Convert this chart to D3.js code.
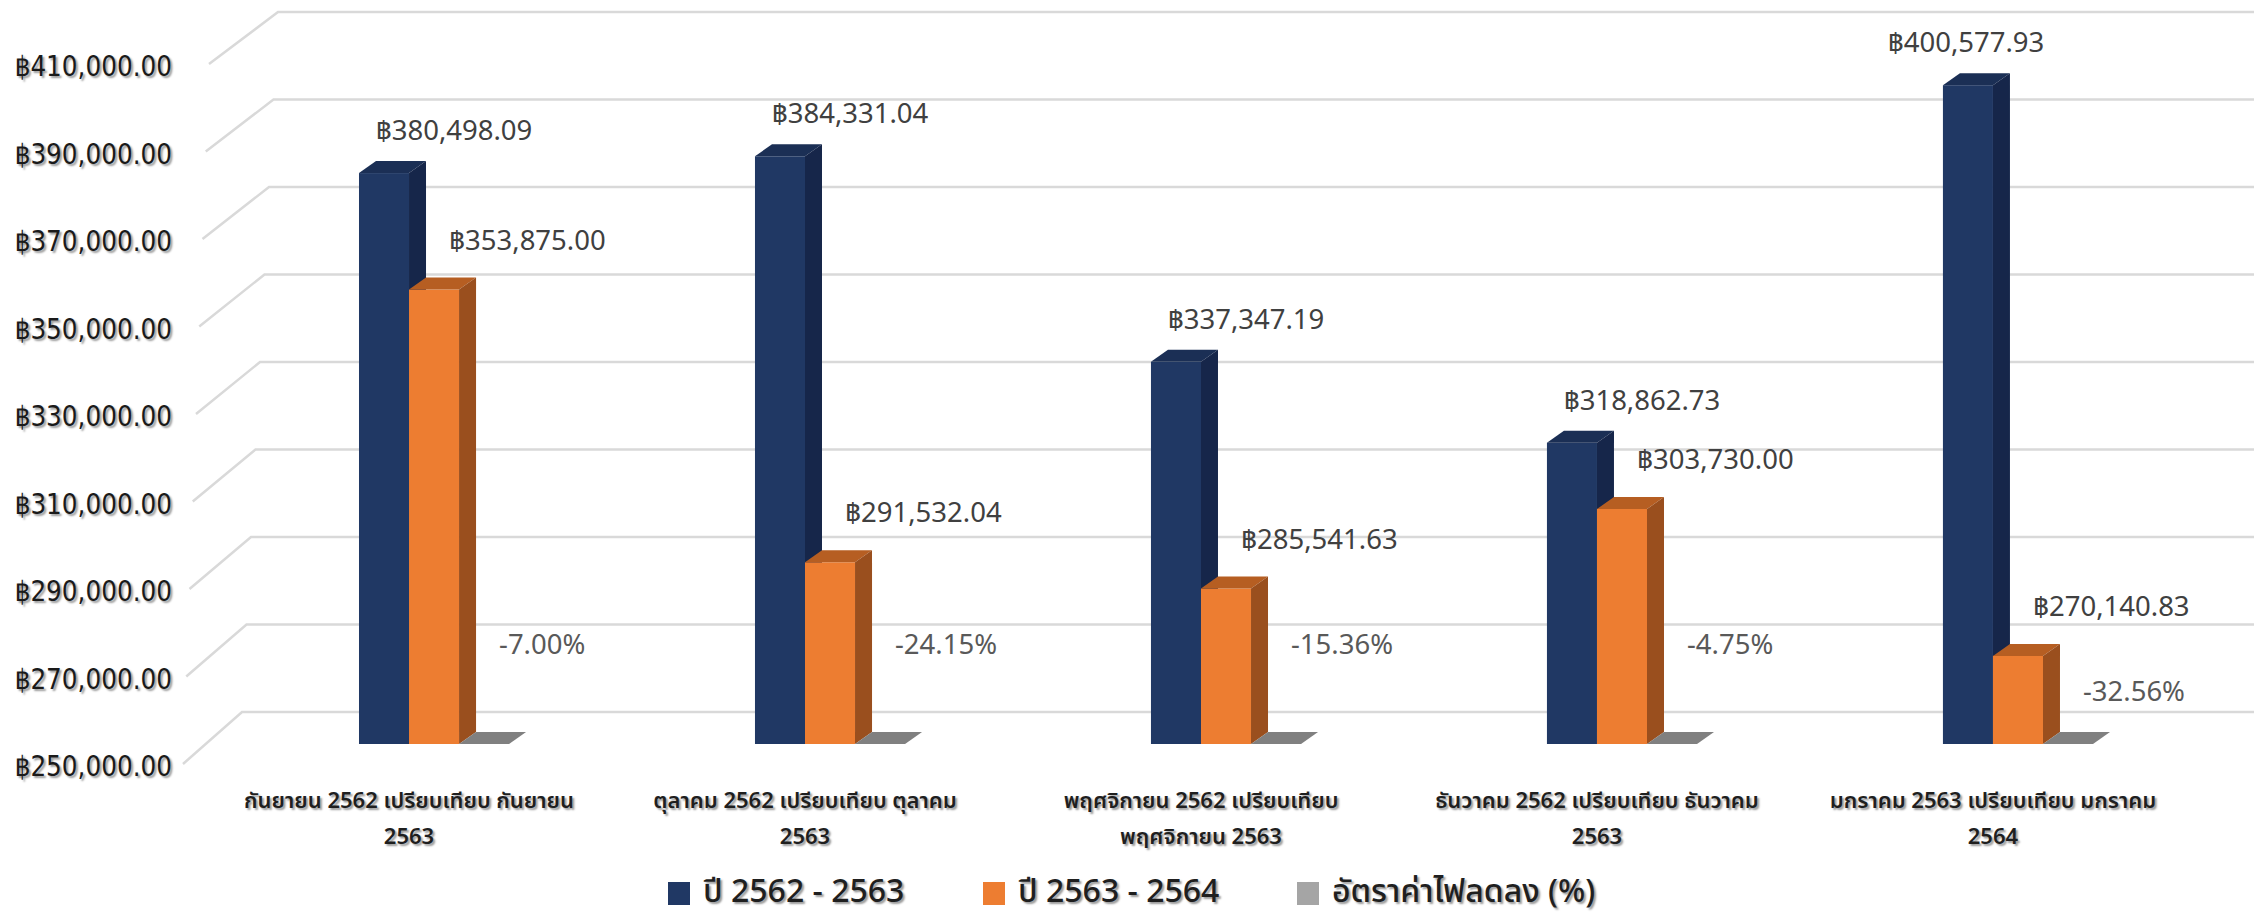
<!DOCTYPE html>
<html>
<head>
<meta charset="utf-8">
<script src="https://cdn.jsdelivr.net/npm/d3@7"></script>
<style>
  body { margin: 0; background: #fff; }
  text { font-family: "Noto Sans Thai", "Tahoma", "Noto Sans", "DejaVu Sans", sans-serif; }
</style>
</head>
<body>
<script>
// data
var categories = ["กันยายน 2562 เปรียบเทียบ กันยายน 2563",
                  "ตุลาคม 2562 เปรียบเทียบ ตุลาคม 2563",
                  "พฤศจิกายน 2562 เปรียบเทียบ พฤศจิกายน 2563",
                  "ธันวาคม 2562 เปรียบเทียบ ธันวาคม 2563",
                  "มกราคม 2563 เปรียบเทียบ มกราคม 2564"];
var seriesNames = ["ปี 2562 - 2563", "ปี 2563 - 2564", "อัตราค่าไฟลดลง (%)"];
var values6263 = [380498.09, 384331.04, 337347.19, 318862.73, 400577.93];
var values6364 = [353875.00, 291532.04, 285541.63, 303730.00, 270140.83];
var pctDrop = [-7.00, -24.15, -15.36, -4.75, -32.56];
var yTicks = [250000, 270000, 290000, 310000, 330000, 350000, 370000, 390000, 410000];

var W = 2254, H = 917;
var colors = [
  {front: "#203864", top: "#1b2f55", side: "#16264a"},
  {front: "#ed7d31", top: "#b65e22", side: "#9a4f1e"},
  {front: "#8c8c8c", top: "#808080", side: "#6f6f6f"}
];
var legendColors = ["#203864", "#ed7d31", "#a5a5a5"];
var shadow = "2px 2px 2px rgba(0,0,0,0.4)";

var svg = d3.select("body").append("svg")
            .attr("width", W)
            .attr("height", H);

// bar plane scale; walls are offset in depth
var y = d3.scaleLinear().domain([250000, 410000]).range([744, 44]);
var FRONT = 20, BACK = -32;   // floor front edge / back wall offsets (px in y)
var DX = 17, DY = 12;         // bar depth

var x0 = d3.scaleBand().domain(categories).range([236, 2216])
           .paddingInner(0.621).paddingOuter(0.3106);
var x1 = d3.scaleBand().domain(d3.range(3)).range([0, x0.bandwidth()]);

// gridlines: back wall + left side wall
var g = svg.append("g");
yTicks.forEach(function(v) {
  var t = (v - 250000) / 160000;
  var fx = 183 + t * 26, bx = 242 + t * 36;
  g.append("path")
   .attr("d", "M" + fx + "," + (y(v) + FRONT) + "L" + bx + "," + (y(v) + BACK) + "L" + W + "," + (y(v) + BACK))
   .style("fill", "none")
   .style("stroke", "#d9d9d9")
   .style("stroke-width", 2.5);
});

// y axis labels
var yFront = y.copy().range([744 + FRONT + 3, 44 + FRONT + 3]);
var yAxis = svg.append("g")
   .attr("transform", "translate(178,0)")
   .call(d3.axisLeft(yFront).tickValues(yTicks).tickSize(0).tickPadding(6)
           .tickFormat(function(d) { return "฿" + d3.format(",.2f")(d); }));
yAxis.select(".domain").remove();
yAxis.selectAll("text")
     .style("font-size", "27.5px")
     .style("font-family", "'DejaVu Sans Condensed', Tahoma, sans-serif")
     .style("fill", "#1a1a1a")
     .style("text-shadow", shadow);

function bar(parent, xl, w, v, c) {
  var yt = y(Math.max(250000, v)), yb = y(250000);
  var xr = xl + w;
  parent.append("rect")
        .attr("x", xl).attr("y", yt)
        .attr("width", w).attr("height", yb - yt)
        .style("fill", c.front);
  parent.append("path")
        .attr("d", "M" + xl + "," + yt + "L" + xr + "," + yt + "L" + (xr + DX) + "," + (yt - DY) + "L" + (xl + DX) + "," + (yt - DY) + "Z")
        .style("fill", c.top);
  parent.append("path")
        .attr("d", "M" + xr + "," + yt + "L" + (xr + DX) + "," + (yt - DY) + "L" + (xr + DX) + "," + (yb - DY) + "L" + xr + "," + yb + "Z")
        .style("fill", c.side);
}

var bars = svg.append("g");
var labels = svg.append("g");
var fmt = d3.format(",.2f");

categories.forEach(function(cat, i) {
  var gx = x0(cat);
  var vals = [values6263[i], values6364[i], pctDrop[i]];
  vals.forEach(function(v, s) {
    bar(bars, gx + x1(s), x1.bandwidth(), v, colors[s]);
  });

  // value labels
  var navyC = Math.min(gx + x1(0) + x1.bandwidth() / 2 + 70, 1966);
  labels.append("text")
        .attr("x", navyC)
        .attr("y", y(values6263[i]) - DY - 21)
        .attr("text-anchor", "middle")
        .style("font-size", "27.5px")
        .style("fill", "#404040")
        .text("฿" + fmt(values6263[i]));
  var orBase = y(values6364[i]) - DY - 28;
  labels.append("text")
        .attr("x", gx + x1(1) + 40)
        .attr("y", orBase)
        .style("font-size", "27.5px")
        .style("fill", "#404040")
        .text("฿" + fmt(values6364[i]));
  labels.append("text")
        .attr("x", gx + x1(2) + 40)
        .attr("y", Math.max(654, orBase + 85))
        .style("font-size", "27.5px")
        .style("fill", "#595959")
        .text(d3.format(".2f")(pctDrop[i]) + "%");

  // category labels, wrapped
  var cx = gx + x0.bandwidth() / 2 - 25;
  var t = svg.append("text")
             .attr("text-anchor", "middle")
             .style("font-size", "22px")
             .style("font-weight", 600)
             .style("fill", "#1f1f1f")
             .style("text-shadow", shadow);
  var words = cat.split(" "), line = [], lineNo = 0;
  var ts = t.append("tspan").attr("x", cx).attr("y", 808);
  words.forEach(function(wd) {
    line.push(wd);
    ts.text(line.join(" "));
    if (ts.node().getComputedTextLength() > 345 && line.length > 1) {
      line.pop();
      ts.text(line.join(" "));
      line = [wd];
      lineNo++;
      ts = t.append("tspan").attr("x", cx).attr("y", 808 + lineNo * 36).text(wd);
    }
  });
});

// legend
var legX = [668, 983, 1297];
seriesNames.forEach(function(name, s) {
  var lg = svg.append("g").attr("transform", "translate(" + legX[s] + ",882)");
  lg.append("rect").attr("width", 22).attr("height", 23).style("fill", legendColors[s]);
  lg.append("text")
    .attr("x", 35).attr("y", 20)
    .style("font-size", "32px")
    .style("font-weight", 500)
    .style("fill", "#1f1f1f")
    .style("text-shadow", shadow)
    .text(name);
});
</script>
</body>
</html>
